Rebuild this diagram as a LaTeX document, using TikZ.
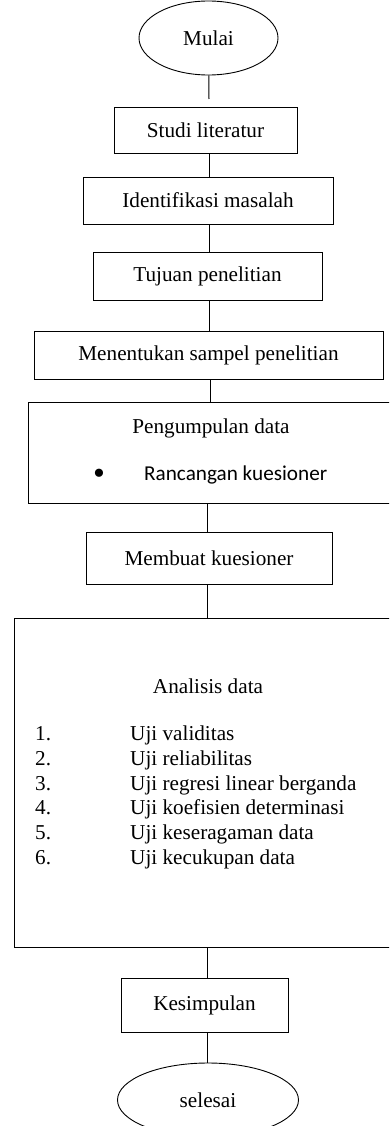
\documentclass[tikz,border=0pt]{standalone}
\usepackage{fontspec}
\setmainfont{Liberation Serif}
\newfontfamily\calibri{Carlito}
\usetikzlibrary{shapes.geometric}

\tikzset{
  box/.style={draw, line width=0.9pt, inner sep=0pt, font=\fontsize{21.2}{25}\selectfont},
  oval/.style={draw, ellipse, line width=0.9pt, inner sep=0pt, font=\fontsize{21.2}{25}\selectfont},
  txt/.style={anchor=base, inner sep=0pt, font=\fontsize{21.2}{25}\selectfont},
  link/.style={line width=1pt}
}

\begin{document}
\begin{tikzpicture}[x=1pt,y=-1pt]
\useasboundingbox (0,0) rectangle (389,1126);
\clip (0,0) rectangle (389,1126);

\node[oval, minimum width=139pt, minimum height=74pt] (mulai) at (208.5,38) {Mulai};
\node[box, minimum width=183pt, minimum height=46pt] (studi) at (205.5,130) {Studi literatur};
\node[box, minimum width=250pt, minimum height=47pt] (identifikasi) at (208,200.5) {Identifikasi masalah};
\node[box, minimum width=229pt, minimum height=48pt] (tujuan) at (207.5,276) {Tujuan penelitian};
\node[box, minimum width=349pt, minimum height=48pt] (sampel) at (208.5,355) {Menentukan sampel penelitian};

\node[box, minimum width=380pt, minimum height=101pt] (pengumpulan) at (218,452.5) {};
\node[txt] (judulkumpul) at (211,433) {Pengumpulan data};
\node[txt, font=\fontsize{34}{34}\selectfont] (bullet) at (99,484) {•};
\node[txt, anchor=base west, font=\calibri\fontsize{21.2}{25}\selectfont] (rancangan) at (144,480) {Rancangan kuesioner};

\node[box, minimum width=246pt, minimum height=52pt] (membuat) at (209,558) {Membuat kuesioner};

\node[box, minimum width=394pt, minimum height=329pt] (analisis) at (211,782.5) {};
\node[txt] (judulanalisis) at (208,693) {Analisis data};
\node[txt, anchor=base west] (no1) at (35,740) {1.};
\node[txt, anchor=base west] (no2) at (35,765) {2.};
\node[txt, anchor=base west] (no3) at (35,790) {3.};
\node[txt, anchor=base west] (no4) at (35,814) {4.};
\node[txt, anchor=base west] (no5) at (35,839) {5.};
\node[txt, anchor=base west] (no6) at (35,864) {6.};
\node[txt, anchor=base west] (uji1) at (130,740) {Uji validitas};
\node[txt, anchor=base west] (uji2) at (130,765) {Uji reliabilitas};
\node[txt, anchor=base west] (uji3) at (130,790) {Uji regresi linear berganda};
\node[txt, anchor=base west] (uji4) at (130,814) {Uji koefisien determinasi};
\node[txt, anchor=base west] (uji5) at (130,839) {Uji keseragaman data};
\node[txt, anchor=base west] (uji6) at (130,864) {Uji kecukupan data};

\node[box, minimum width=167pt, minimum height=54pt] (kesimpulan) at (204.5,1005) {Kesimpulan};
\node[oval, minimum width=181pt, minimum height=74pt] (selesai) at (208,1100) {selesai};

\coordinate (atas) at (209,0);
\coordinate (tengah) at (210,0);
\coordinate (bawah) at (207,0);
\coordinate (ujung) at (209,99);

\draw[link] (mulai) -- (ujung);
\draw[link] (studi.south -| atas) -- (identifikasi.north -| atas);
\draw[link] (identifikasi.south -| atas) -- (tujuan.north -| atas);
\draw[link] (tujuan.south -| atas) -- (sampel.north -| atas);
\draw[link] (sampel.south -| tengah) -- (pengumpulan.north -| tengah);
\draw[link] (pengumpulan.south -| bawah) -- (membuat.north -| bawah);
\draw[link] (membuat.south -| bawah) -- (analisis.north -| bawah);
\draw[link] (analisis.south -| bawah) -- (kesimpulan.north -| bawah);
\draw[link] (kesimpulan.south -| bawah) -- (selesai.north -| bawah);

\end{tikzpicture}
\end{document}
